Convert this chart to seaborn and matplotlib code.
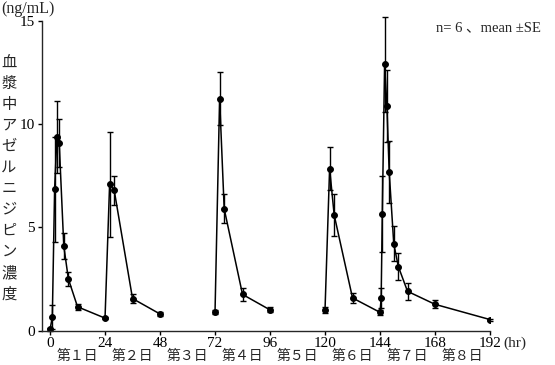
import pandas as pd
import matplotlib
matplotlib.use("Agg")
import matplotlib.pyplot as plt
import seaborn as sns

# sampling times (hr), mean plasma concentration (ng/mL) and SE
times = [0, 1, 2, 3, 4, 6, 8, 12, 24, 26, 28, 36, 48,
         72, 74, 76, 84, 96,
         120, 122, 124, 132, 144, 144.5, 145, 146, 147, 148, 150, 152, 156, 168, 192]
means = [0.05, 0.65, 6.85, 9.4, 9.1, 4.1, 2.5, 1.15, 0.6, 7.1, 6.8, 1.55, 0.8,
         0.9, 11.25, 5.9, 1.75, 1.0,
         1.0, 7.85, 5.6, 1.58, 0.88, 1.57, 5.65, 12.9, 10.9, 7.7, 4.2, 3.1, 1.9, 1.27, 0.53]
ses = [0.05, 0.6, 2.55, 1.75, 1.15, 0.65, 0.35, 0.15, 0.05, 2.55, 0.7, 0.2, 0.1,
       0.1, 1.3, 0.7, 0.3, 0.12,
       0.15, 1.05, 1.0, 0.25, 0.12, 0.5, 1.85, 2.3, 1.75, 1.5, 0.85, 0.65, 0.4, 0.2, 0.05]
# connected runs of samples (no line drawn across the gaps)
segments = [1] * 13 + [2] * 5 + [3] * 15

x_ticks = [0, 24, 48, 72, 96, 120, 144, 168, 192]
y_ticks = [0, 5, 10, 15]
day_labels = ["第１日", "第２日", "第３日", "第４日", "第５日", "第６日", "第７日", "第８日"]
y_label = "血漿中アゼルニジピン濃度"

df = pd.DataFrame({"t": times, "conc": means, "se": ses, "seg": segments})

sns.set_style("ticks")
plt.rcParams["font.family"] = ["Liberation Serif", "Noto Sans CJK JP"]
plt.rcParams["axes.linewidth"] = 1.0

W, H = 555, 365
fig = plt.figure(figsize=(W / 100, H / 100), dpi=100)
ax = fig.add_axes([0.0757, 0.0945, 0.8072, 0.8475])

sns.lineplot(data=df, x="t", y="conc", units="seg", estimator=None,
             color="black", lw=1.1, marker="o", markersize=4.2,
             markeredgecolor="black", ax=ax, legend=False)
ax.errorbar(df["t"], df["conc"], yerr=df["se"], fmt="none", ecolor="black",
            elinewidth=1.0, capsize=2, capthick=1.0, clip_on=False)

ax.set_xlim(-3.5, 192)
ax.set_ylim(0, 15)
ax.set_xticks(x_ticks)
ax.set_yticks(y_ticks)
ax.tick_params(direction="out", length=3, width=1, labelsize=11, pad=2, colors="black")
ax.set_xlabel("")
ax.set_ylabel("")
sns.despine(ax=ax)

# day labels sit under the tick labels, centred in each 24 h block
for i, lab in enumerate(day_labels):
    ax.text(12 + 24 * i, -0.085, lab, transform=ax.get_xaxis_transform(),
            ha="center", va="center", fontsize=10)

ax.text(198, -0.04, "(hr)", transform=ax.get_xaxis_transform(),
        ha="left", va="center", fontsize=11, clip_on=False)

fig.text(0.003, 1 - 9 / H, "(ng/mL)", ha="left", va="center", fontsize=11.5)

# vertical stacked y label, one character per row
for i, ch in enumerate(y_label):
    fig.text(9 / W, 1 - (63 + 21 * i) / H, ch, ha="center", va="center", fontsize=11)

fig.text(0.975, 1 - 28 / H, "n= 6 、mean ±SE", ha="right", va="center", fontsize=10.5)

fig.savefig("out.png", dpi=100)
